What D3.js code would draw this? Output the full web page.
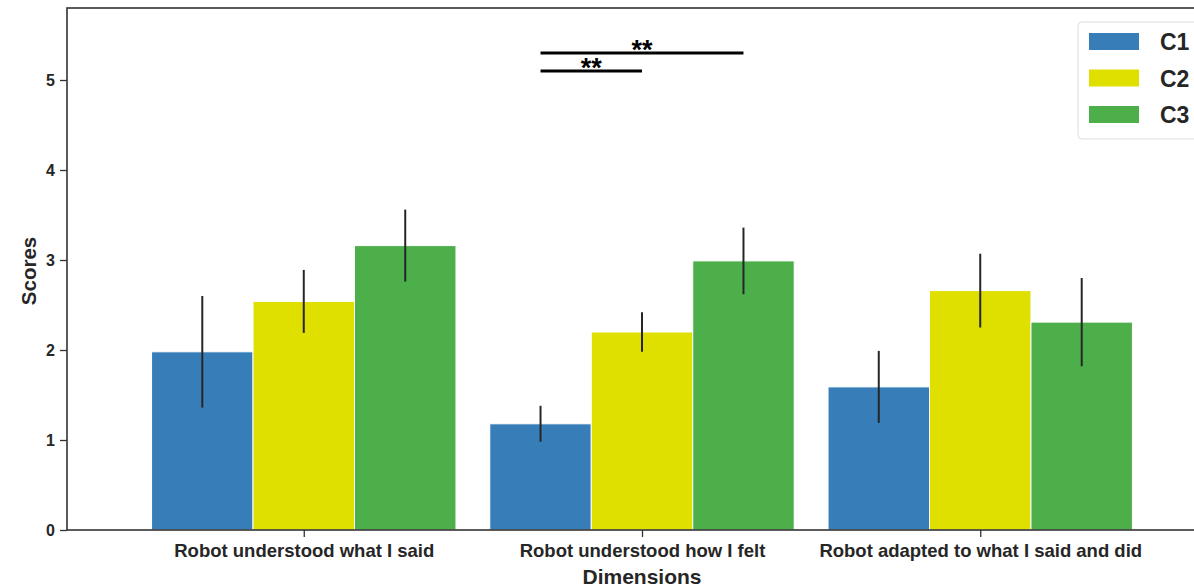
<!DOCTYPE html>
<html>
<head>
<meta charset="utf-8">
<script src="https://cdn.jsdelivr.net/npm/d3@7"></script>
<style>
  html, body { margin: 0; padding: 0; background: #fff; overflow: hidden; }
  svg { display: block; font-family: "Liberation Sans", Arial, sans-serif; }
</style>
</head>
<body>
<svg id="chart" width="1194" height="587"></svg>
<script>
// Dimensions rated by participants, per condition
const dimensions = ["Robot understood what I said", "Robot understood how I felt", "Robot adapted to what I said and did"];
const conditions = ["C1", "C2", "C3"];
const colors = ["#377eb8", "#dfdf00", "#4daf4a"];

// Mean scores per condition (one entry per dimension)
const c1Means = [1.98, 1.18, 1.59];
const c2Means = [2.54, 2.20, 2.66];
const c3Means = [3.16, 2.99, 2.31];
// Error bar half-widths
const c1Err = [0.62, 0.20, 0.40];
const c2Err = [0.35, 0.22, 0.41];
const c3Err = [0.40, 0.37, 0.49];

const yTicks = [0, 1, 2, 3, 4, 5];

// Significance annotations: dimension index, pair of conditions, height, label
const sigDim = [1, 1];
const sigFrom = [0, 0];
const sigTo = [2, 1];
const sigY = [5.3, 5.1];
const sigLabel = ["**", "**"];

const means = [c1Means, c2Means, c3Means];
const errs = [c1Err, c2Err, c3Err];

const svg = d3.select("#chart");
const mLeft = 67, mTop = 8, mBottom = 530, mRight = 1217;

// Category centers
const x = d3.scalePoint().domain(dimensions).range([mLeft, mRight]).padding(0.7);
const step = x.step();
const barW = step * 0.3;
const xSub = d3.scaleBand().domain(conditions).range([-1.5 * barW, 1.5 * barW]);

const y = d3.scaleLinear().domain([0, 5.8]).range([mBottom, mTop]);

// Bars with error bars
conditions.forEach((c, ci) => {
  const g = svg.append("g");
  g.selectAll("rect").data(dimensions).join("rect")
    .attr("x", d => x(d) + xSub(c))
    .attr("y", (d, i) => y(means[ci][i]))
    .attr("width", xSub.bandwidth())
    .attr("height", (d, i) => y(0) - y(means[ci][i]))
    .attr("fill", colors[ci])
    .attr("stroke", "#fff")
    .attr("stroke-width", 1);
  g.selectAll("line").data(dimensions).join("line")
    .attr("x1", d => x(d) + xSub(c) + xSub.bandwidth() / 2)
    .attr("x2", d => x(d) + xSub(c) + xSub.bandwidth() / 2)
    .attr("y1", (d, i) => y(means[ci][i] - errs[ci][i]))
    .attr("y2", (d, i) => y(means[ci][i] + errs[ci][i]))
    .attr("stroke", "#262626")
    .attr("stroke-width", 2);
});

// Axes
const yAxis = d3.axisLeft(y).tickValues(yTicks).tickSize(7).tickPadding(5).tickFormat(d3.format("d"));
const gy = svg.append("g").attr("transform", `translate(${mLeft},0)`).call(yAxis)
  .attr("font-size", 16).attr("font-weight", "bold").attr("font-family", "Liberation Sans, Arial, sans-serif");
gy.select(".domain").remove();
gy.selectAll(".tick line").attr("stroke", "#333").attr("stroke-width", 1.3);
gy.selectAll(".tick text").attr("fill", "#262626");

const xAxis = d3.axisBottom(x).tickSize(7).tickPadding(7);
const gx = svg.append("g").attr("transform", `translate(0,${mBottom})`).call(xAxis)
  .attr("font-size", 18.5).attr("font-weight", "bold").attr("font-family", "Liberation Sans, Arial, sans-serif");
gx.select(".domain").remove();
gx.selectAll(".tick line").attr("stroke", "#333").attr("stroke-width", 1.3);
gx.selectAll(".tick text").attr("fill", "#262626");

// Frame
svg.append("rect").attr("x", mLeft).attr("y", mTop).attr("width", mRight - mLeft).attr("height", mBottom - mTop)
  .attr("fill", "none").attr("stroke", "#333").attr("stroke-width", 1.6);

// Axis titles
svg.append("text").attr("x", x(dimensions[1])).attr("y", 584)
  .attr("text-anchor", "middle").attr("font-size", 21).attr("font-weight", "bold").attr("fill", "#262626")
  .text("Dimensions");
svg.append("text").attr("transform", `translate(36,${(mTop + mBottom) / 2 + 2}) rotate(-90)`)
  .attr("text-anchor", "middle").attr("font-size", 20.5).attr("font-weight", "bold").attr("fill", "#262626")
  .text("Scores");

// Significance brackets
sigDim.forEach((di, k) => {
  const d = dimensions[di];
  const x1 = x(d) + xSub(conditions[sigFrom[k]]) + xSub.bandwidth() / 2;
  const x2 = x(d) + xSub(conditions[sigTo[k]]) + xSub.bandwidth() / 2;
  svg.append("line").attr("x1", x1).attr("x2", x2).attr("y1", y(sigY[k])).attr("y2", y(sigY[k]))
    .attr("stroke", "#000").attr("stroke-width", 3);
  svg.append("text").attr("x", (x1 + x2) / 2).attr("y", y(sigY[k]) + 6)
    .attr("text-anchor", "middle").attr("font-size", 27).attr("font-weight", "bold").attr("fill", "#000")
    .text(sigLabel[k]);
});

// Legend
const lg = svg.append("g").attr("transform", "translate(1078,22)");
lg.append("rect").attr("x", 0).attr("y", 0).attr("width", 150).attr("height", 117).attr("rx", 4)
  .attr("fill", "#fff").attr("stroke", "#ddd").attr("stroke-width", 1);
conditions.forEach((c, i) => {
  lg.append("rect").attr("x", 11).attr("y", 11 + i * 36.5).attr("width", 50).attr("height", 17)
    .attr("fill", colors[i]);
  lg.append("text").attr("x", 82).attr("y", 28 + i * 36.5)
    .attr("font-size", 23).attr("font-weight", "bold").attr("fill", "#262626").text(c);
});
</script>
</body>
</html>
